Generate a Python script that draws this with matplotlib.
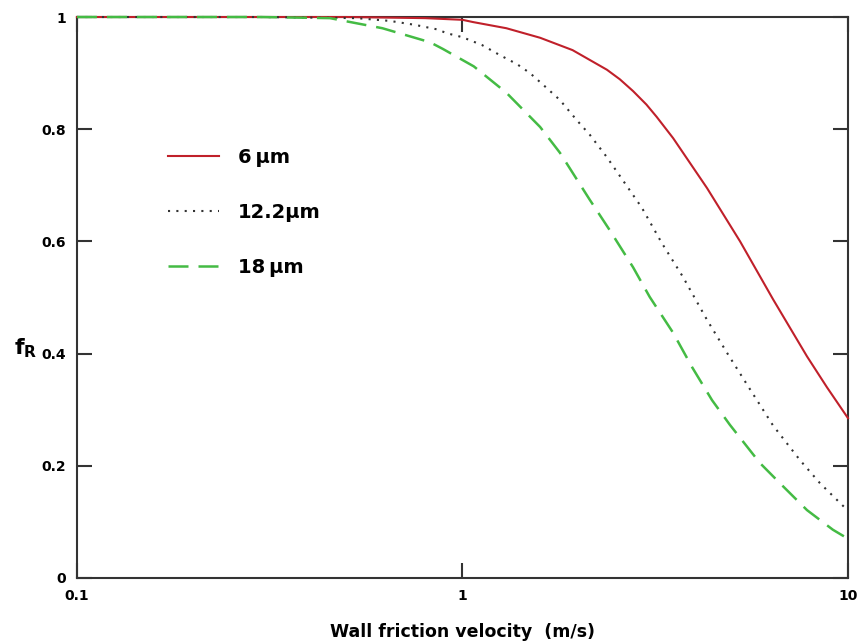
import numpy as np
import matplotlib
matplotlib.use("Agg")
import matplotlib.pyplot as plt
from matplotlib.ticker import FixedLocator, NullLocator

# ---------------------------
# Data
# ---------------------------
x_6 = [0.1, 0.3, 0.5, 0.8, 1.0, 1.065, 1.30, 1.59, 1.93, 2.37, 2.56, 2.77, 3.0, 3.19, 3.52, 4.31,
       5.25, 6.39, 7.83, 8.82, 10.0]
f_6 = [1.0, 1.0, 1.0, 0.998, 0.995, 0.991, 0.980, 0.963, 0.941, 0.906, 0.889, 0.868, 0.844, 0.822,
       0.784, 0.695, 0.600, 0.497, 0.395, 0.340, 0.285]

x_12 = [0.1, 0.3, 0.532, 0.649, 0.753, 0.859, 0.912, 1.0, 1.124, 1.251, 1.385, 1.497, 1.657,
        1.79, 1.98, 2.14, 2.37, 2.92, 3.29, 3.73, 4.31, 4.86, 5.47, 6.39, 7.51, 8.46, 9.53, 10.0]
f_12 = [1.0, 1.0, 0.998, 0.993, 0.986, 0.978, 0.971, 0.964, 0.950, 0.932, 0.916, 0.900, 0.873,
        0.852, 0.816, 0.790, 0.750, 0.660, 0.597, 0.537, 0.460, 0.401, 0.345, 0.272, 0.210, 0.169, 0.134, 0.12]

x_18 = [0.1, 0.3, 0.453, 0.62, 0.824, 0.89, 1.07, 1.30, 1.59, 1.79, 2.14, 2.41, 2.77, 3.06, 3.52,
        3.94, 4.44, 4.94, 5.91, 6.66, 7.83, 9.14, 10.0]
f_18 = [1.0, 1.0, 0.998, 0.980, 0.955, 0.943, 0.912, 0.865, 0.804, 0.758, 0.674, 0.620, 0.554, 0.501,
        0.437, 0.376, 0.317, 0.273, 0.205, 0.169, 0.121, 0.086, 0.07]

labels = ["6\u2009\u00b5m", "12.2\u00b5m", "18\u2009\u00b5m"]
x_ticks = [0.1, 1, 10]
x_ticklabels = ["0.1", "1", "10"]
y_ticks = [0, 0.2, 0.4, 0.6, 0.8, 1.0]
y_ticklabels = ["0", "0.2", "0.4", "0.6", "0.8", "1"]

# ---------------------------
# Figure
# ---------------------------
fig = plt.figure(figsize=(8.6, 6.42), dpi=100)
ax = fig.add_axes([0.0895, 0.0997, 0.8965, 0.8738])

ax.plot(x_6, f_6, '-', color='#c0202a', linewidth=1.5, label=labels[0], clip_on=False, zorder=3)
ax.plot(x_12, f_12, color='#333333', linewidth=1.5, linestyle=(0, (1, 3)), label=labels[1],
        clip_on=False, zorder=3)
ax.plot(x_18, f_18, color='#44bb44', linewidth=1.8, linestyle=(0, (8, 4)), label=labels[2],
        clip_on=False, zorder=3)

ax.set_xscale('log')
ax.set_xlim(0.1, 10)
ax.set_ylim(0, 1)

ax.xaxis.set_major_locator(FixedLocator(x_ticks))
ax.xaxis.set_minor_locator(NullLocator())
ax.set_xticklabels(x_ticklabels)
ax.set_yticks(y_ticks)
ax.set_yticklabels(y_ticklabels)

ax.tick_params(direction='in', length=11, width=1.5, color='#333333',
               top=True, right=True, labelsize=10, pad=8)
for lbl in ax.get_xticklabels() + ax.get_yticklabels():
    lbl.set_fontweight('bold')

for sp in ax.spines.values():
    sp.set_linewidth(1.5)
    sp.set_color('#333333')

ax.set_xlabel('Wall friction velocity  (m/s)', fontsize=12.5, fontweight='bold', labelpad=14)
ax.set_ylabel(r'$\mathbf{f}_{\mathbf{R}}$', fontsize=16, rotation=0, va='center')
ax.yaxis.set_label_coords(-0.067, 0.41)

leg = ax.legend(loc='upper left', bbox_to_anchor=(0.118, 0.766), frameon=False,
                handlelength=2.6, handletextpad=1.0, labelspacing=1.85,
                borderpad=0, borderaxespad=0, prop={'size': 14, 'weight': 'bold'})

fig.savefig('out.png', dpi=100)
